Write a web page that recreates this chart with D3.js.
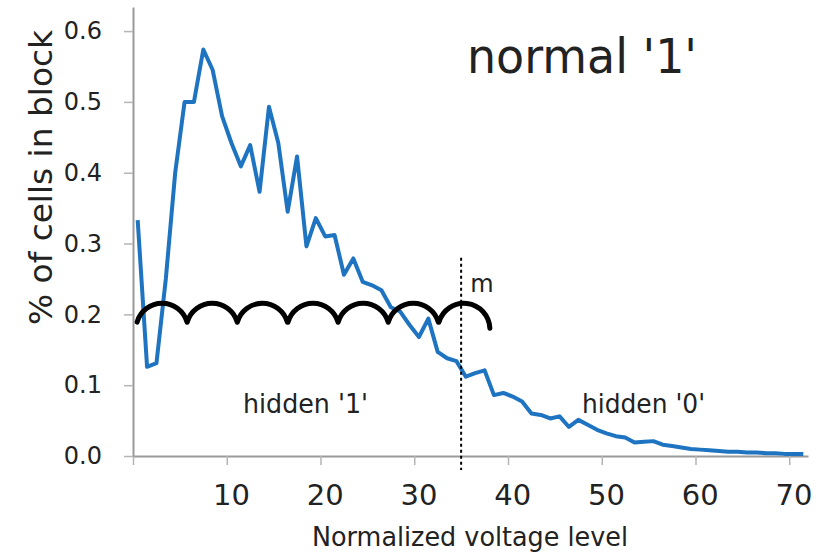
<!DOCTYPE html>
<html>
<head>
<meta charset="utf-8">
<script src="https://cdn.jsdelivr.net/npm/d3@7"></script>
<style>
  body { margin: 0; background: #fff; }
  text { font-family: "DejaVu Sans", sans-serif; fill: #222; }
</style>
</head>
<body>
<svg id="chart" width="836" height="553"></svg>
<script>
// normalized voltage levels (categories)
const levels = [0,1,2,3,4,5,6,7,8,9,10,11,12,13,14,15,16,17,18,19,20,21,22,23,24,25,26,27,28,29,
  30,31,32,33,34,35,36,37,38,39,40,41,42,43,44,45,46,47,48,49,50,51,52,53,54,55,56,57,58,59,
  60,61,62,63,64,65,66,67,68,69,70,71];

// % of cells in block
const cellPct = [0.333,0.126,0.131,0.25,0.40,0.50,0.50,0.574,0.545,0.48,
  0.442,0.409,0.439,0.373,0.493,0.442,0.345,0.423,0.296,0.336,
  0.31,0.312,0.256,0.279,0.246,0.241,0.234,0.21,0.204,0.185,
  0.168,0.194,0.147,0.138,0.134,0.112,0.117,0.121,0.086,0.089,
  0.084,0.077,0.060,0.058,0.053,0.056,0.041,0.051,0.044,0.037,
  0.032,0.028,0.026,0.019,0.020,0.021,0.016,0.014,0.012,0.010,
  0.009,0.008,0.007,0.006,0.006,0.005,0.005,0.004,0.004,0.003,
  0.003,0.003];

const yTicks = [0, 0.1, 0.2, 0.3, 0.4, 0.5, 0.6];
const xLabels = [10, 20, 30, 40, 50, 60, 70];
const xTickEdges = [0, 10, 20, 30, 40, 50, 60, 70];

// scalloped annotation: arc centres in axis units, level and radius
const arcCenters = [3.1, 8.45, 13.8, 19.2, 24.55, 29.9, 35.3];
const arcLevel = 0.179;
const arcRadius = 2.77;
const threshold = 35;

function drawChart(){
  var margin = {top: 7, right: 28, bottom: 97, left: 133},
      width = 836 - margin.left - margin.right,
      height = 553 - margin.top - margin.bottom;

  var svg = d3.select("#chart")
    .append("g")
      .attr("transform", "translate(" + margin.left + "," + margin.top + ")");

  // band scale for the categories, linear one for edges / annotations
  var x = d3.scaleBand()
    .domain(levels)
    .range([0, width])
    .padding(0);
  var xEdge = d3.scaleLinear()
    .domain([0, levels.length])
    .range([0, width]);
  var y = d3.scaleLinear()
    .domain([0, 0.634])
    .range([height, 0]);

  // x axis: tick marks between categories
  const xAxis = svg.append("g")
    .attr("transform", "translate(0," + height + ")")
    .call(d3.axisBottom(xEdge).tickValues(xTickEdges).tickSize(9).tickSizeOuter(0).tickFormat(""));
  xAxis.select(".domain").attr("stroke", "#9a9a9a").attr("stroke-width", 2);
  xAxis.selectAll(".tick line").attr("stroke", "#b5b5b5").attr("stroke-width", 1.5);

  // x labels centred on categories
  const xLab = svg.append("g")
    .attr("transform", "translate(0," + height + ")")
    .call(d3.axisBottom(x).tickValues(xLabels).tickSize(0));
  xLab.select(".domain").remove();
  xLab.selectAll("text")
    .attr("y", 49)
    .attr("dy", 0)
    .style("font-family", "'DejaVu Sans', sans-serif")
    .style("font-size", "29px")
    .style("fill", "#222");

  // y axis
  const yAxis = svg.append("g")
    .call(d3.axisLeft(y).tickValues(yTicks).tickSize(9).tickSizeOuter(0).tickPadding(22).tickFormat(d3.format(".1f")));
  yAxis.select(".domain").attr("stroke", "#9a9a9a").attr("stroke-width", 2);
  yAxis.selectAll(".tick line").attr("stroke", "#b5b5b5").attr("stroke-width", 1.5);
  yAxis.selectAll("text")
    .style("font-family", "'DejaVu Sans', sans-serif")
    .style("font-size", "24px")
    .style("fill", "#222");

  // axis titles
  svg.append("text")
    .text("Normalized voltage level")
    .attr("x", 312 - margin.left)
    .attr("y", 546 - margin.top)
    .attr("textLength", 316)
    .attr("lengthAdjust", "spacingAndGlyphs")
    .style("font-size", "26px");

  svg.append("text")
    .text("% of cells in block")
    .attr("transform", "translate(" + (52 - margin.left) + "," + (325 - margin.top) + ") rotate(-90)")
    .attr("textLength", 295)
    .attr("lengthAdjust", "spacingAndGlyphs")
    .style("font-size", "32px");

  // the data line
  const line = d3.line()
    .x(function(d, i){ return x(levels[i]) + x.bandwidth() / 2; })
    .y(function(d){ return y(d); });

  svg.append("path")
    .datum(cellPct)
    .attr("d", line)
    .attr("fill", "none")
    .attr("stroke", "#1f74c1")
    .attr("stroke-width", 4)
    .attr("stroke-linejoin", "round");

  // scallop arcs
  const r = xEdge(arcRadius) - xEdge(0);
  const half = 74 * Math.PI / 180;
  const p = d3.path();
  arcCenters.forEach(function(c, i){
    const cx = xEdge(c), cy = y(arcLevel);
    const a0 = -Math.PI / 2 - half;
    const a1 = i === arcCenters.length - 1 ? -Math.PI / 2 + 88 * Math.PI / 180 : -Math.PI / 2 + half;
    p.moveTo(cx + r * Math.cos(a0), cy + r * Math.sin(a0));
    p.arc(cx, cy, r, a0, a1);
  });
  svg.append("path")
    .attr("d", p.toString())
    .attr("fill", "none")
    .attr("stroke", "#000")
    .attr("stroke-width", 5)
    .attr("stroke-linecap", "round");

  // threshold line m
  svg.append("line")
    .attr("x1", xEdge(threshold))
    .attr("x2", xEdge(threshold))
    .attr("y1", y(0.28))
    .attr("y2", height + 14)
    .attr("stroke", "#000")
    .attr("stroke-width", 2)
    .attr("stroke-dasharray", "3,3");

  svg.append("text")
    .text("m")
    .attr("x", xEdge(threshold) + 9)
    .attr("y", 292 - margin.top)
    .style("font-size", "24px");

  svg.append("text")
    .text("hidden '1'")
    .attr("x", 243 - margin.left)
    .attr("y", 413 - margin.top)
    .attr("textLength", 125)
    .attr("lengthAdjust", "spacingAndGlyphs")
    .style("font-size", "26px");

  svg.append("text")
    .text("hidden '0'")
    .attr("x", 582 - margin.left)
    .attr("y", 413 - margin.top)
    .attr("textLength", 123)
    .attr("lengthAdjust", "spacingAndGlyphs")
    .style("font-size", "26px");

  svg.append("text")
    .text("normal '1'")
    .attr("x", 467 - margin.left)
    .attr("y", 73 - margin.top)
    .attr("textLength", 230)
    .attr("lengthAdjust", "spacingAndGlyphs")
    .style("font-size", "48px");
}

drawChart();
</script>
</body>
</html>
